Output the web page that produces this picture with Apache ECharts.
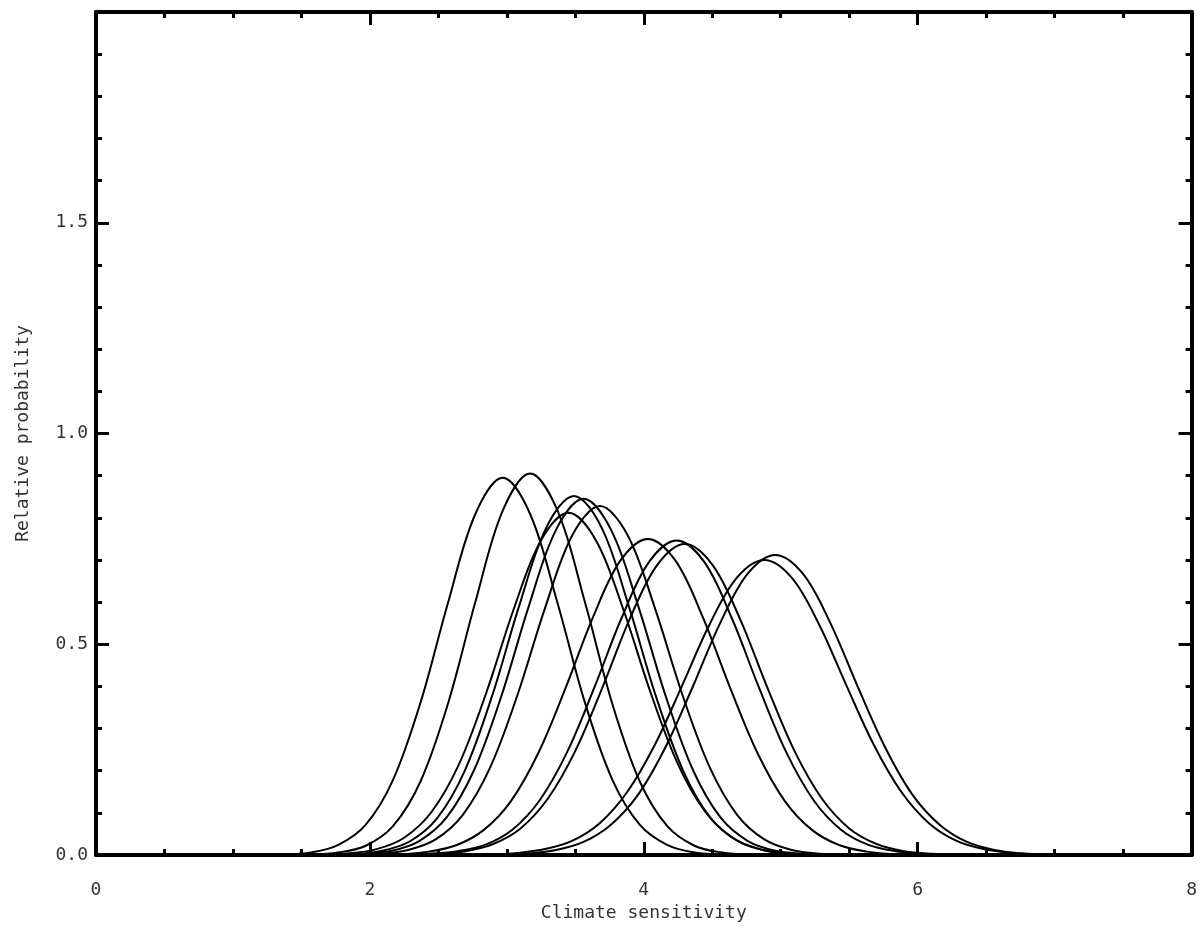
<!DOCTYPE html>
<html>
<head>
<meta charset="utf-8">
<title>Climate sensitivity</title>
<script src="https://cdn.jsdelivr.net/npm/echarts@6/dist/echarts.min.js"></script>
<style>
  html, body { margin: 0; padding: 0; background: #fff; }
  #chart { width: 1200px; height: 941px; }
</style>
</head>
<body>
<div id="chart"></div>
<script>
// axis ranges / ticks
const xTicks = [0, 2, 4, 6, 8]
const yTicks = [0, 0.5, 1.0, 1.5, 2.0]

// each curve is [sensitivity, relative probability]
const curveA = [[1.37,0.001],[1.57,0.006],[1.77,0.024],[1.97,0.072],[2.17,0.179],[2.37,0.362],[2.57,0.598],[2.77,0.809],[2.97,0.895],[3.17,0.809],[3.37,0.598],[3.57,0.362],[3.77,0.179],[3.97,0.072],[4.17,0.024],[4.37,0.006],[4.57,0.001]]
const curveB = [[1.57,0.001],[1.77,0.006],[1.97,0.022],[2.17,0.069],[2.37,0.175],[2.57,0.359],[2.77,0.600],[2.97,0.817],[3.17,0.905],[3.37,0.817],[3.57,0.600],[3.77,0.359],[3.97,0.175],[4.17,0.069],[4.37,0.022],[4.57,0.006],[4.77,0.001]]
const curveC = [[1.69,0.001],[1.89,0.002],[2.09,0.010],[2.29,0.032],[2.49,0.087],[2.69,0.198],[2.89,0.375],[3.09,0.591],[3.29,0.778],[3.49,0.852],[3.69,0.778],[3.89,0.591],[4.09,0.375],[4.29,0.198],[4.49,0.087],[4.69,0.032],[4.89,0.010],[5.09,0.002],[5.29,0.001]]
const curveD = [[1.76,0.001],[1.96,0.003],[2.16,0.010],[2.36,0.033],[2.56,0.089],[2.76,0.201],[2.96,0.377],[3.16,0.590],[3.36,0.772],[3.56,0.845],[3.76,0.772],[3.96,0.590],[4.16,0.377],[4.36,0.201],[4.56,0.089],[4.76,0.033],[4.96,0.010],[5.16,0.003],[5.36,0.001]]
const curveE = [[1.65,0.001],[1.85,0.004],[2.05,0.014],[2.25,0.041],[2.45,0.102],[2.65,0.215],[2.85,0.385],[3.05,0.583],[3.25,0.747],[3.45,0.812],[3.65,0.747],[3.85,0.583],[4.05,0.385],[4.25,0.215],[4.45,0.102],[4.65,0.041],[4.85,0.014],[5.05,0.004],[5.25,0.001]]
const curveF = [[1.88,0.001],[2.08,0.003],[2.28,0.012],[2.48,0.037],[2.68,0.096],[2.88,0.209],[3.08,0.382],[3.28,0.587],[3.48,0.760],[3.68,0.828],[3.88,0.760],[4.08,0.587],[4.28,0.382],[4.48,0.209],[4.68,0.096],[4.88,0.037],[5.08,0.012],[5.28,0.003],[5.48,0.001]]
const curveG = [[2.03,0.001],[2.23,0.002],[2.43,0.008],[2.63,0.023],[2.83,0.059],[3.03,0.128],[3.23,0.242],[3.43,0.397],[3.63,0.565],[3.83,0.699],[4.03,0.750],[4.23,0.699],[4.43,0.565],[4.63,0.397],[4.83,0.242],[5.03,0.128],[5.23,0.059],[5.43,0.023],[5.63,0.008],[5.83,0.002],[6.03,0.001]]
const curveH = [[2.24,0.001],[2.44,0.003],[2.64,0.009],[2.84,0.024],[3.04,0.060],[3.24,0.130],[3.44,0.244],[3.64,0.398],[3.84,0.564],[4.04,0.696],[4.24,0.746],[4.44,0.696],[4.64,0.564],[4.84,0.398],[5.04,0.244],[5.24,0.130],[5.44,0.060],[5.64,0.024],[5.84,0.009],[6.04,0.003],[6.24,0.001]]
const curveI = [[2.30,0.001],[2.50,0.003],[2.70,0.009],[2.90,0.026],[3.10,0.063],[3.30,0.134],[3.50,0.247],[3.70,0.399],[3.90,0.562],[4.10,0.689],[4.30,0.738],[4.50,0.689],[4.70,0.562],[4.90,0.399],[5.10,0.247],[5.30,0.134],[5.50,0.063],[5.70,0.026],[5.90,0.009],[6.10,0.003],[6.30,0.001]]
const curveJ = [[2.88,0.001],[3.08,0.005],[3.28,0.014],[3.48,0.034],[3.68,0.076],[3.88,0.150],[4.08,0.261],[4.28,0.402],[4.48,0.547],[4.68,0.658],[4.88,0.700],[5.08,0.658],[5.28,0.547],[5.48,0.402],[5.68,0.261],[5.88,0.150],[6.08,0.076],[6.28,0.034],[6.48,0.014],[6.68,0.005],[6.88,0.001]]
const curveK = [[2.96,0.001],[3.16,0.004],[3.36,0.012],[3.56,0.031],[3.76,0.072],[3.96,0.144],[4.16,0.257],[4.36,0.401],[4.56,0.552],[4.76,0.668],[4.96,0.712],[5.16,0.668],[5.36,0.552],[5.56,0.401],[5.76,0.257],[5.96,0.144],[6.16,0.072],[6.36,0.031],[6.56,0.012],[6.76,0.004],[6.96,0.001]]

const curves = [curveA, curveB, curveC, curveD, curveE, curveF, curveG, curveH, curveI, curveJ, curveK]

const labelFont = {
  fontFamily: 'DejaVu Sans Mono',
  fontSize: 18,
  color: '#333'
}

const black = '#000'

// shared look of all four sides of the box, ticks point inwards
const sideAxis = (extra) => Object.assign({
  type: 'value',
  axisLine: { show: true, onZero: false, lineStyle: { color: black, width: 4 } },
  axisTick: { show: true, inside: true, length: 13, lineStyle: { color: black, width: 3 } },
  minorTick: { show: true, length: 6, lineStyle: { color: black, width: 3 } },
  splitLine: { show: false },
  minorSplitLine: { show: false }
}, extra)

const chart = echarts.init(document.getElementById('chart'))

let option = {
  animation: false,
  backgroundColor: '#fff',
  grid: {
    left: 96,
    right: 4,
    top: 12,
    bottom: 86
  },
  xAxis: [
    sideAxis({
      position: 'bottom',
      min: xTicks[0],
      max: xTicks[xTicks.length - 1],
      interval: xTicks[1] - xTicks[0],
      minorTick: { show: true, splitNumber: 4, length: 6, lineStyle: { color: black, width: 3 } },
      name: 'Climate sensitivity',
      nameLocation: 'middle',
      nameGap: 35,
      nameTextStyle: labelFont,
      axisLabel: Object.assign({ margin: 26 }, labelFont)
    }),
    sideAxis({
      position: 'top',
      min: xTicks[0],
      max: xTicks[xTicks.length - 1],
      interval: xTicks[1] - xTicks[0],
      minorTick: { show: true, splitNumber: 4, length: 6, lineStyle: { color: black, width: 3 } },
      axisLabel: { show: false }
    })
  ],
  yAxis: [
    sideAxis({
      position: 'left',
      min: yTicks[0],
      max: yTicks[yTicks.length - 1],
      interval: yTicks[1] - yTicks[0],
      minorTick: { show: true, splitNumber: 5, length: 6, lineStyle: { color: black, width: 3 } },
      name: 'Relative probability',
      nameLocation: 'middle',
      nameGap: 64,
      nameTextStyle: labelFont,
      axisLabel: Object.assign({
        margin: 8,
        showMaxLabel: false,
        formatter: (v) => v.toFixed(1)
      }, labelFont)
    }),
    sideAxis({
      position: 'right',
      min: yTicks[0],
      max: yTicks[yTicks.length - 1],
      interval: yTicks[1] - yTicks[0],
      minorTick: { show: true, splitNumber: 5, length: 6, lineStyle: { color: black, width: 3 } },
      axisLabel: { show: false }
    })
  ],
  series: curves.map((c) => ({
    type: 'line',
    xAxisIndex: 0,
    yAxisIndex: 0,
    data: c,
    smooth: 0.35,
    symbol: 'none',
    clip: true,
    lineStyle: { color: black, width: 2 }
  }))
}

chart.setOption(option)
</script>
</body>
</html>
